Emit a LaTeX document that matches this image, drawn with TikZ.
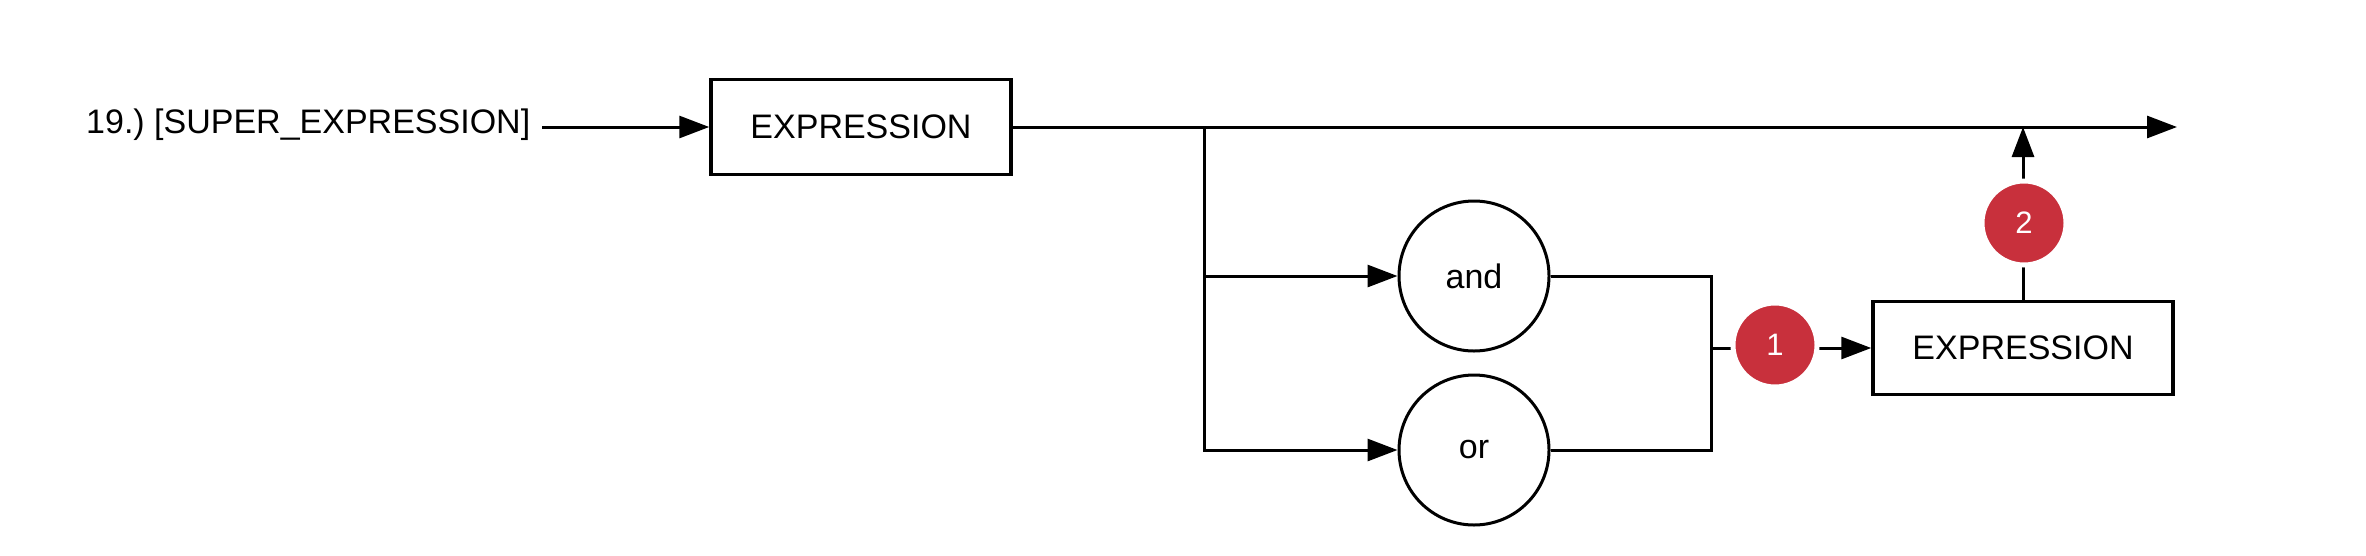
\documentclass[tikz,border=0pt]{standalone}
\usepackage{fontspec}
\setmainfont{Liberation Sans}
\usetikzlibrary{arrows.meta}
\definecolor{badgered}{RGB}{200,48,60}
\frenchspacing
\begin{document}
\begin{tikzpicture}[x=1pt,y=-1pt,
  txt/.style={font=\fontsize{34}{40}\selectfont},
  boxnode/.style={draw, line width=3.5pt, minimum width=300pt, minimum height=95pt, inner sep=0pt, txt},
  circnode/.style={draw, circle, line width=3pt, minimum size=150pt, inner sep=0pt, txt},
  badge/.style={circle, fill=badgered, draw=white, line width=5pt, minimum size=84pt, inner sep=0pt, text=white, font=\fontsize{31}{36}\selectfont},
  conn/.style={line width=3pt},
  arr/.style={conn, -{Triangle[length=30pt,width=22pt]}}]
\useasboundingbox (0,0) rectangle (2366,555);
\node[txt, anchor=west, inner sep=0pt] (lbl) at (86,125) {19.) [SUPER\_EXPRESSION]};
\node[boxnode] (e1) at (861,127) {EXPRESSION};
\node[circnode] (and) at (1474,276) {and};
\node[circnode] (or) at (1474,450) {or};
\node[boxnode, minimum height=93pt] (e2) at (2023,348) {EXPRESSION};
\coordinate (split) at (1204,127);
\coordinate (end) at (2177,127);
\coordinate (junc) at (1711,348);
\coordinate (top) at (2023,127);
\draw[arr] ([xshift=12pt]lbl.east |- e1.west) -- (e1.west);
\draw[arr] (e1.east) -- (end);
\draw[arr] (split) |- (or.west);
\draw[arr] (split |- and.west) -- (and.west);
\draw[conn] (and.east) -| (junc);
\draw[conn] (or.east) -| (junc);
\draw[arr] (junc) -- (e2.west);
\draw[arr] (e2.north) -- (top);
\node[badge] (b1) at (1775,345) {1};
\node[badge] (b2) at (2024,223) {2};
\end{tikzpicture}
\end{document}
